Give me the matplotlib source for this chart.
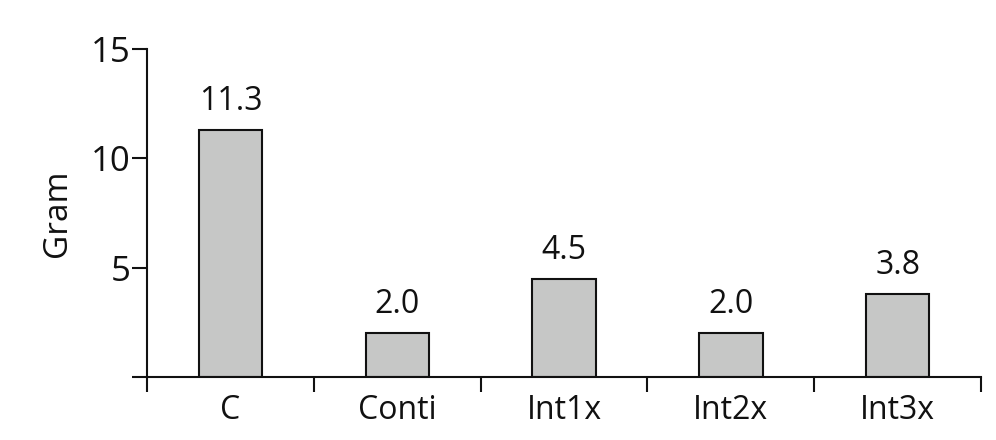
import matplotlib
matplotlib.use('Agg')
import matplotlib.pyplot as plt

plt.rcParams['font.family'] = ['Open Sans', 'DejaVu Sans']

# Data
groups = ['C', 'Conti', 'Int1x', 'Int2x', 'Int3x']
grams = [11.3, 2.0, 4.5, 2.0, 3.8]
y_ticks = [0, 5, 10, 15]
y_tick_labels = ['', '5', '10', '15']

fig = plt.figure(figsize=(9.96, 4.4), dpi=100)
ax = fig.add_axes([0.1476, 0.1432, 0.8374, 0.7454])

x = list(range(len(groups)))
ax.bar(x, grams, width=0.38, color='#c6c7c6', edgecolor='#111111', linewidth=1.5)

# value labels above each bar
for xi, v in zip(x, grams):
    ax.text(xi, v + 0.55, f'{v:.1f}', ha='center', va='bottom', fontsize=23, color='#111111')

ax.set_xlim(-0.5, len(groups) - 0.5)
ax.set_ylim(0, 15)

# major ticks at group boundaries, labels at centers
ax.set_xticks([i - 0.5 for i in range(len(groups) + 1)])
ax.set_xticklabels([])
ax.set_xticks(x, minor=True)
ax.set_xticklabels(groups, minor=True, fontsize=23, color='#111111')
ax.tick_params(axis='x', which='major', length=11, width=1.5, direction='out', color='#111111')
ax.tick_params(axis='x', which='minor', length=0, pad=12)

ax.set_yticks(y_ticks)
ax.set_yticklabels(y_tick_labels, fontsize=25, color='#111111')
ax.tick_params(axis='y', length=11, width=1.5, direction='out', pad=1, color='#111111')

ax.set_ylabel('Gram', fontsize=24, labelpad=12, color='#111111')

for s in ['top', 'right']:
    ax.spines[s].set_visible(False)
for s in ['left', 'bottom']:
    ax.spines[s].set_linewidth(1.5)
    ax.spines[s].set_color('#111111')

fig.savefig('out.png', dpi=100)
